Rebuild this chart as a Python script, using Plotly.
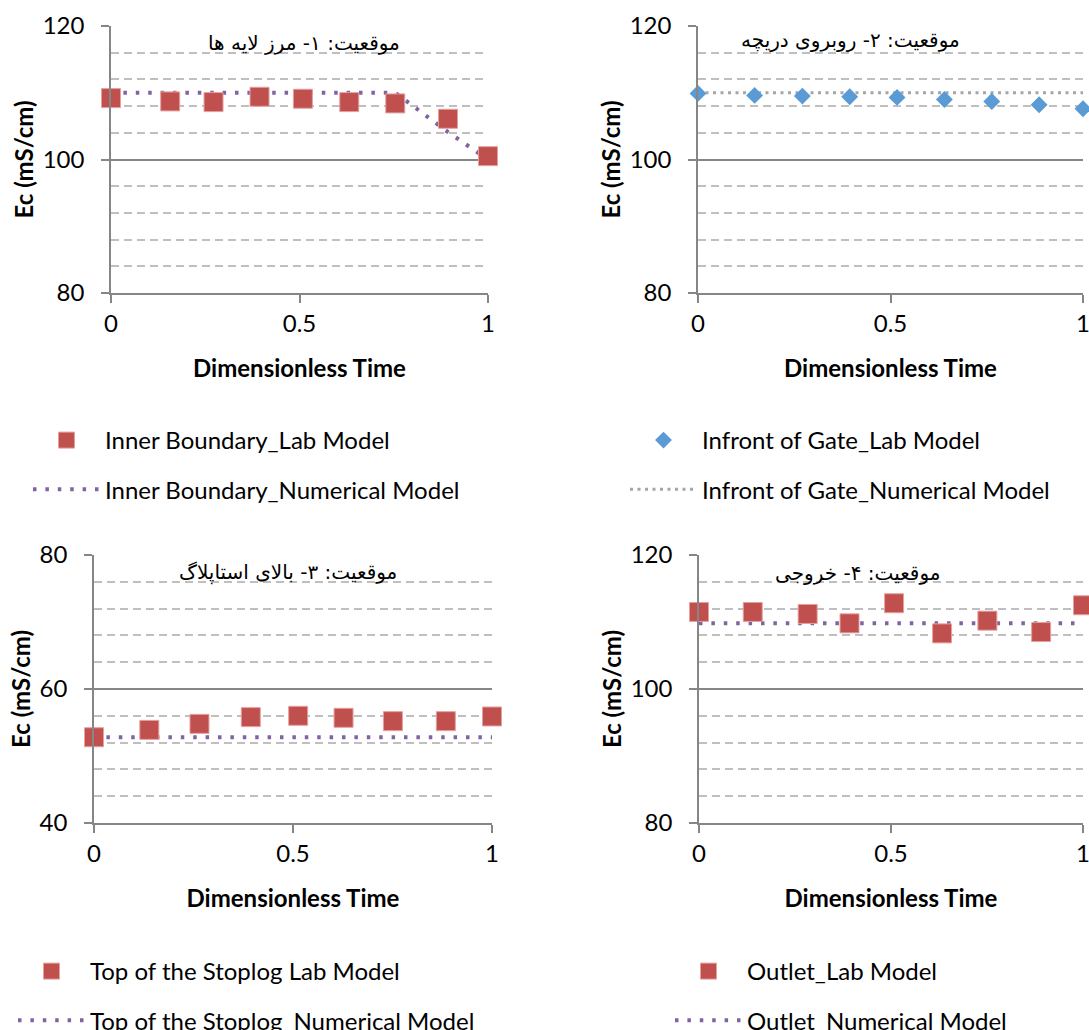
import plotly.graph_objects as go

# ---------------- data ----------------
x1 = [0, 0.157, 0.272, 0.394, 0.509, 0.632, 0.754, 0.894, 1.0]
lab1 = [109.2, 108.7, 108.6, 109.4, 109.1, 108.6, 108.4, 106.1, 100.5]
num1 = [110.0, 110.0, 110.0, 110.0, 110.0, 110.0, 110.0, 104.1, 100.0]

x2 = [0, 0.147, 0.271, 0.394, 0.517, 0.640, 0.763, 0.886, 1.0]
lab2 = [109.9, 109.6, 109.5, 109.4, 109.3, 109.0, 108.7, 108.2, 107.6]
num2 = [110.0, 110.0, 110.0, 110.0, 110.0, 110.0, 110.0, 110.0, 110.0]

x3 = [0, 0.139, 0.265, 0.394, 0.513, 0.627, 0.751, 0.884, 1.0]
lab3 = [52.8, 53.9, 54.8, 55.8, 56.0, 55.7, 55.2, 55.2, 55.9]
num3 = [52.8, 52.8, 52.8, 52.8, 52.8, 52.8, 52.8, 52.8, 52.8]

x4 = [0, 0.140, 0.283, 0.392, 0.508, 0.633, 0.751, 0.891, 1.0]
lab4 = [111.5, 111.5, 111.2, 109.8, 112.8, 108.3, 110.2, 108.5, 112.5]
num4 = [109.8, 109.8, 109.8, 109.8, 109.8, 109.8, 109.8, 109.8, 109.8]

names_lab = ["Inner Boundary_Lab Model", "Infront of Gate_Lab Model",
             "Top of the Stoplog Lab Model", "Outlet_Lab Model"]
names_num = ["Inner Boundary_Numerical Model", "Infront of Gate_Numerical Model",
             "Top of the Stoplog_Numerical Model", "Outlet_Numerical Model"]
titles = ["موقعیت: ۱- مرز لایه ها", "موقعیت: ۲- روبروی دریچه",
          "موقعیت: ۳- بالای استاپلاگ", "موقعیت: ۴- خروجی"]
y_ranges = [[80, 120], [80, 120], [40, 80], [80, 120]]
x_ticks = [0, 0.5, 1]
x_ticktext = ["0", "0.5", "1"]
x_title = "Dimensionless Time"
y_title = "Ec (mS/cm)"

# ---------------- layout geometry ----------------
W, H = 1089, 1030
# plot areas in pixels: (left, right, top, bottom)
areas = [(111, 488, 26, 293), (698, 1083, 26, 293),
         (94, 492, 555, 823), (699, 1083, 555, 823)]
title_pos = [(304, 43), (850, 40), (288, 572), (857, 573)]
legend_pos = [(28, 418), (625, 418), (13, 949), (670, 949)]

FONT = "Lato"
RED = "#C0504D"
BLUE = "#5B9BD5"
PURPLE = "#8064A2"
GREY = "#A6A6A6"
AXIS = "#868686"
MINOR = "#BFBFBF"

xs = [x1, x2, x3, x4]
labs = [lab1, lab2, lab3, lab4]
nums = [num1, num2, num3, num4]

fig = go.Figure()
layout = dict(width=W, height=H,
              margin=dict(l=0, r=0, t=0, b=0, autoexpand=False),
              paper_bgcolor="white", plot_bgcolor="white",
              font=dict(family=FONT, size=24, color="black"),
              annotations=[])

for i in range(4):
    k = "" if i == 0 else str(i + 1)
    leg = "legend" if i == 0 else "legend" + str(i + 1)
    l, r, t, b = areas[i]
    # numerical model line
    if i == 1:
        line = dict(color=GREY, width=3, dash="3px,4.5px")
    else:
        line = dict(color=PURPLE, width=4, dash="3.5px,8.9px")
    fig.add_trace(go.Scatter(
        x=xs[i], y=nums[i], mode="lines", name=names_num[i], line=line,
        xaxis="x" + k, yaxis="y" + k, legend=leg, legendgroup="n" + str(i),
        legendrank=2, cliponaxis=False, showlegend=True))
    # lab model markers
    if i == 1:
        marker = dict(symbol="diamond", size=13, color=BLUE,
                      line=dict(color=BLUE, width=0))
    else:
        marker = dict(symbol="square", size=19, color=RED,
                      line=dict(color="#E6A0A0", width=1))
    fig.add_trace(go.Scatter(
        x=xs[i], y=labs[i], mode="markers", name=names_lab[i], marker=marker,
        xaxis="x" + k, yaxis="y" + k, legend=leg, legendgroup="l" + str(i),
        legendrank=1, cliponaxis=False, showlegend=True))

    layout["xaxis" + k] = dict(
        domain=[l / W, r / W], anchor="y" + k, range=[0, 1],
        tickvals=x_ticks, ticktext=x_ticktext,
        ticks="outside", ticklen=8, tickcolor=AXIS, tickwidth=1.5,
        ticklabeloverflow="allow",
        showline=True, linecolor=AXIS, linewidth=1.5,
        showgrid=False, zeroline=False,
        tickfont=dict(family=FONT, size=24),
        title=dict(text=x_title, font=dict(family=FONT, size=24, weight="bold"),
                   standoff=25))
    layout["yaxis" + k] = dict(
        domain=[1 - b / H, 1 - t / H], anchor="x" + k, range=y_ranges[i],
        dtick=20, ticks="outside", ticklen=8, tickcolor=AXIS, tickwidth=1.5,
        ticklabelstandoff=12,
        showline=True, linecolor=AXIS, linewidth=1.5,
        showgrid=True, gridcolor=AXIS, gridwidth=1.5, zeroline=False,
        minor=dict(dtick=4, showgrid=True, gridcolor=MINOR, gridwidth=1.5,
                   griddash="8px,5px"),
        tickfont=dict(family=FONT, size=24),
        title=dict(text=y_title, font=dict(family=FONT, size=24, weight="bold"),
                   standoff=2))
    lx, ly = legend_pos[i]
    layout[leg] = dict(
        x=lx / W, y=1 - ly / H, xanchor="left", yanchor="top",
        xref="paper", yref="paper", bgcolor="rgba(0,0,0,0)",
        itemwidth=67, tracegroupgap=15, traceorder="grouped",
        font=dict(family=FONT, size=24, color="black"))
    tx, ty = title_pos[i]
    layout["annotations"].append(dict(
        text=titles[i], x=tx / W, y=1 - ty / H, xref="paper", yref="paper",
        xanchor="center", yanchor="middle", showarrow=False,
        font=dict(family="DejaVu Sans", size=20, color="black")))

fig.update_layout(**layout)
fig.write_html("out.html",
               config={"displayModeBar": False},
               post_script="document.body.style.margin='0px';")
